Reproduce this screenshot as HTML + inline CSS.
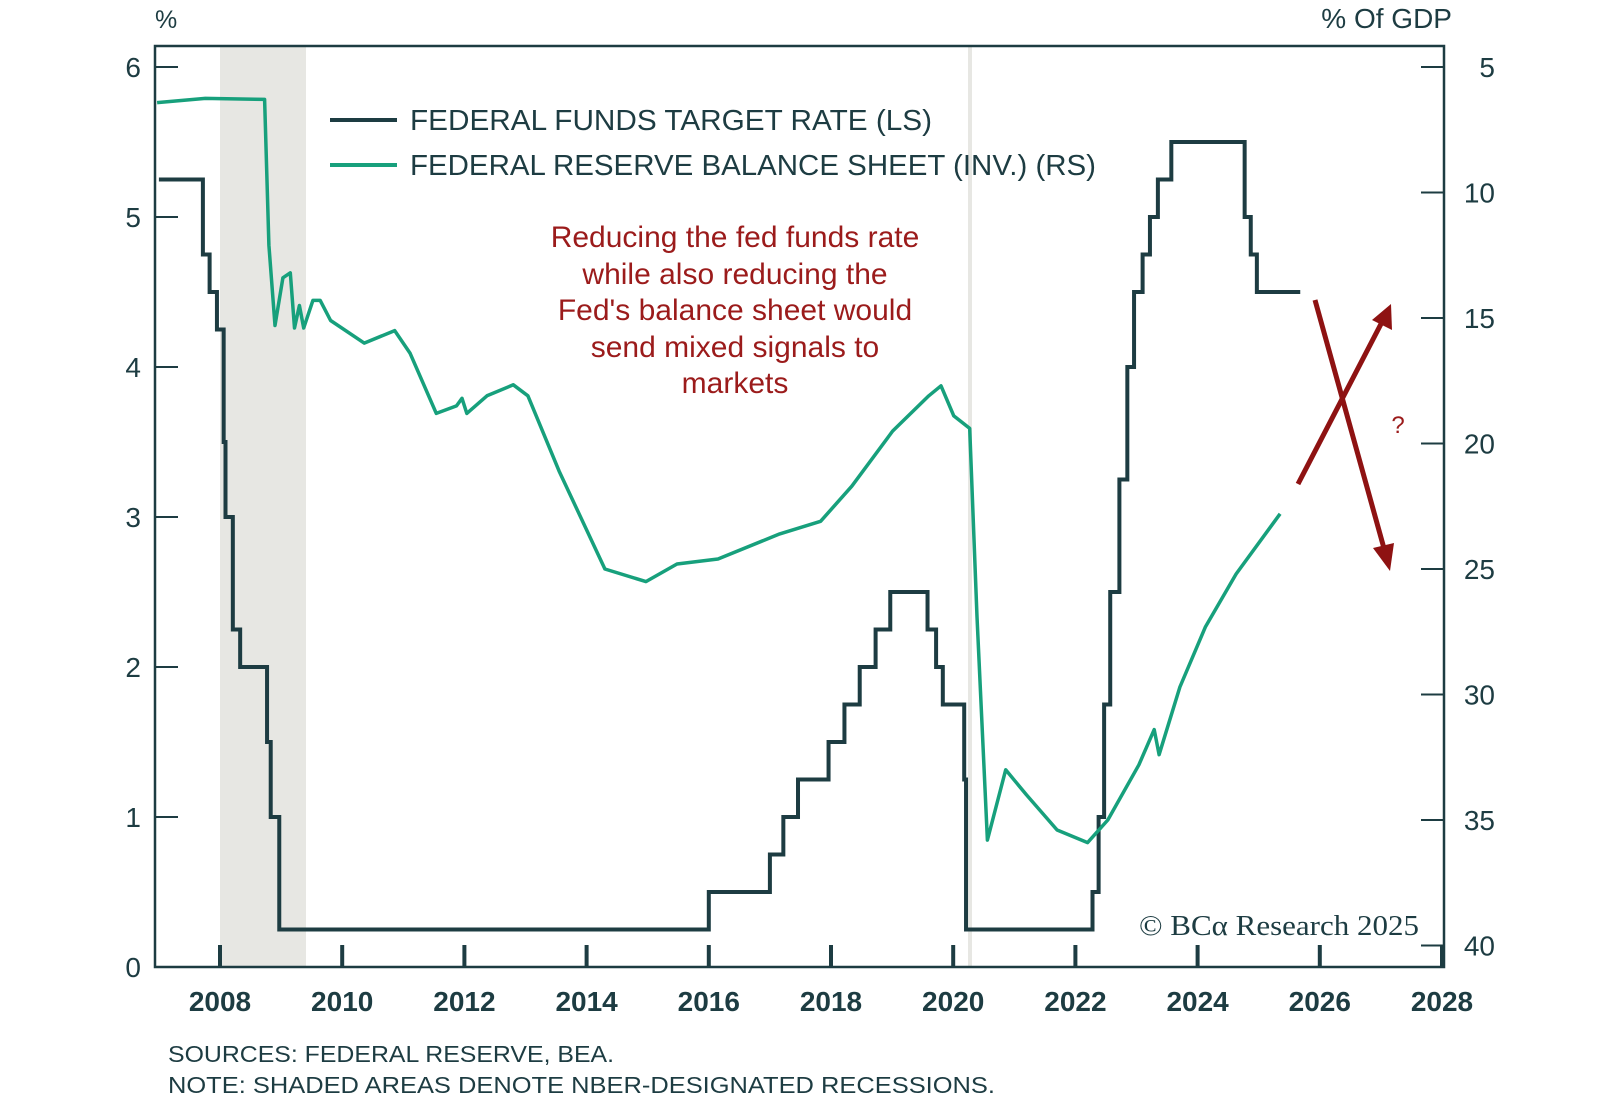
<!DOCTYPE html>
<html><head><meta charset="utf-8">
<style>
body{margin:0;background:#fff;}
svg{display:block;font-family:"Liberation Sans",sans-serif;}
</style></head>
<body>
<svg id="chart" width="1600" height="1107" viewBox="0 0 1600 1107" xmlns="http://www.w3.org/2000/svg">
<rect x="220" y="46" width="86" height="921" fill="#e7e7e3"/>
<rect x="968" y="46" width="4" height="921" fill="#e7e7e3"/>
<g id="axes"></g>
<g id="series"></g>
<text x="155" y="28" font-size="25" fill="#1d3c42">%</text>
<text x="1452" y="28" font-size="28" fill="#1d3c42" text-anchor="end">% Of GDP</text>
<g>
<line x1="330" y1="120" x2="397" y2="120" stroke="#1d3c42" stroke-width="4"/>
<text x="410" y="130" font-size="29" fill="#1d3c42" textLength="522" lengthAdjust="spacingAndGlyphs">FEDERAL FUNDS TARGET RATE (LS)</text>
<line x1="330" y1="165" x2="397" y2="165" stroke="#17a07c" stroke-width="4"/>
<text x="410" y="175" font-size="29" fill="#1d3c42" textLength="686" lengthAdjust="spacingAndGlyphs">FEDERAL RESERVE BALANCE SHEET (INV.) (RS)</text>
</g>
<g font-size="30" fill="#9b1b1b" text-anchor="middle">
<text x="735" y="247">Reducing the fed funds rate</text>
<text x="735" y="284">while also reducing the</text>
<text x="735" y="320">Fed's balance sheet would</text>
<text x="735" y="357">send mixed signals to</text>
<text x="735" y="393">markets</text>
</g>
<g stroke="#8e1212" stroke-width="5" fill="#8e1212">
<line x1="1315" y1="300" x2="1385" y2="552"/>
<polygon points="1390,571 1373,548 1394,543" stroke="none"/>
<line x1="1298" y1="484" x2="1382" y2="322"/>
<polygon points="1391,304 1392,330 1372,320" stroke="none"/>
</g>
<text x="1398" y="433" font-size="24" fill="#9b1b1b" text-anchor="middle">?</text>
<text x="1139" y="935" font-size="29" fill="#1d3c42" font-family="Liberation Serif, serif" textLength="280" lengthAdjust="spacingAndGlyphs">© BCα Research 2025</text>
<text x="168" y="1062" font-size="23" fill="#1d3c42" textLength="446" lengthAdjust="spacingAndGlyphs">SOURCES: FEDERAL RESERVE, BEA.</text>
<text x="168" y="1093" font-size="23" fill="#1d3c42" textLength="827" lengthAdjust="spacingAndGlyphs">NOTE: SHADED AREAS DENOTE NBER-DESIGNATED RECESSIONS.</text>
</svg>
<script>
const xTicks=[2008,2010,2012,2014,2016,2018,2020,2022,2024,2026,2028];
const leftTicks=[0,1,2,3,4,5,6];
const rightTicks=[5,10,15,20,25,30,35,40];
const ffYears=[2007.0,2007.72,2007.83,2007.95,2008.06,2008.09,2008.21,2008.33,2008.77,2008.83,2008.97,2016.0,2017.0,2017.22,2017.46,2017.96,2018.22,2018.47,2018.73,2018.97,2019.58,2019.72,2019.83,2020.18,2020.21,2022.28,2022.38,2022.47,2022.57,2022.72,2022.85,2022.96,2023.1,2023.22,2023.35,2023.57,2024.77,2024.87,2024.97];
const ffRates=[5.25,4.75,4.5,4.25,3.5,3.0,2.25,2.0,1.5,1.0,0.25,0.5,0.75,1.0,1.25,1.5,1.75,2.0,2.25,2.5,2.25,2.0,1.75,1.25,0.25,0.5,1.0,1.75,2.5,3.25,4.0,4.5,4.75,5.0,5.25,5.5,5.0,4.75,4.5];
const ffEnd=2025.68;
const bsYears=[2006.97,2007.76,2008.73,2008.80,2008.9,2009.03,2009.15,2009.22,2009.30,2009.37,2009.52,2009.64,2009.81,2010.36,2010.86,2011.11,2011.54,2011.87,2011.96,2012.04,2012.37,2012.8,2013.04,2013.55,2014.3,2014.97,2015.48,2016.15,2017.16,2017.83,2018.34,2019.01,2019.6,2019.8,2020.01,2020.27,2020.39,2020.56,2020.86,2021.2,2021.7,2022.2,2022.53,2023.04,2023.29,2023.37,2023.71,2024.13,2024.63,2025.35];
const bsValues=[6.42,6.25,6.29,12.1,15.3,13.4,13.2,15.4,14.5,15.4,14.3,14.3,15.1,16.0,15.5,16.4,18.8,18.5,18.2,18.8,18.1,17.66,18.1,21.1,25.0,25.5,24.8,24.6,23.6,23.1,21.7,19.5,18.1,17.7,18.9,19.4,26.9,35.8,33.0,34.0,35.4,35.9,35.0,32.8,31.4,32.4,29.7,27.3,25.2,22.8];

const X=y=>220+(y-2008)*61.1;
const YL=v=>967-v*150;
const YR=v=>67+(v-5)*25.1;
const NS='http://www.w3.org/2000/svg';
function mk(tag,attrs,parent,text){const e=document.createElementNS(NS,tag);for(const k in attrs)e.setAttribute(k,attrs[k]);if(text!==undefined)e.textContent=text;parent.appendChild(e);return e;}
const axes=document.getElementById('axes');
const C='#1d3c42';
const frame=mk('rect',{x:155,y:46,width:1289,height:921,fill:'none',stroke:C,'stroke-width':2.5},axes);


xTicks.forEach(t=>{
  const tk=mk('line',{x1:X(t),x2:X(t),y1:967,y2:945,stroke:C,'stroke-width':4},axes);
  
  
  const lb=mk('text',{x:X(t),y:1011,'font-size':28,'font-weight':'bold',fill:C,'text-anchor':'middle'},axes,String(t));
  
  
});
leftTicks.forEach(t=>{
  const tk=mk('line',{x1:155,x2:178,y1:YL(t),y2:YL(t),stroke:C,'stroke-width':2},axes);
  
  
  const lb=mk('text',{x:141,y:YL(t)+10,'font-size':28,fill:C,'text-anchor':'end'},axes,String(t));
  
  
});
rightTicks.forEach(t=>{
  const tk=mk('line',{x1:1421,x2:1444,y1:YR(t),y2:YR(t),stroke:C,'stroke-width':2},axes);
  
  
  const lb=mk('text',{x:1495,y:YR(t)+10,'font-size':28,fill:C,'text-anchor':'end'},axes,String(t));
  
  
});
const series=document.getElementById('series');
let d='';
ffYears.forEach((y,i)=>{
  if(i===0)d+='M'+X(y)+','+YL(ffRates[i]);
  else d+='H'+X(y)+'V'+YL(ffRates[i]);
});
d+='H'+X(ffEnd);
const ff=mk('path',{d:d,fill:'none',stroke:C,'stroke-width':4},series);


const bd=bsYears.map((y,i)=>(i?'L':'M')+X(y).toFixed(1)+','+YR(bsValues[i]).toFixed(1)).join('');
const bs=mk('path',{d:bd,fill:'none',stroke:'#17a07c','stroke-width':3.5,'stroke-linejoin':'round'},series);


</script>
</body></html>
